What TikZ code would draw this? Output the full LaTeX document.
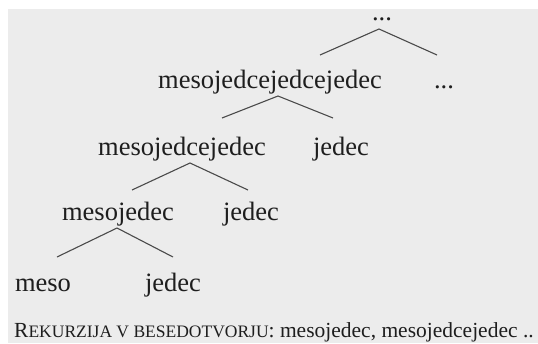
\documentclass[tikz,border=0pt]{standalone}
\usepackage{fontspec}
\setmainfont{Liberation Serif}
\definecolor{bggray}{HTML}{ECECEC}
\definecolor{linegray}{HTML}{4A4A4A}
\definecolor{txt}{HTML}{1E1E1E}
\tikzset{
  word/.style={anchor=base, inner sep=0pt, text=txt, font=\fontsize{26.5}{30}\selectfont},
  branch/.style={draw=linegray, line width=1.1pt},
  caption/.style={anchor=base west, inner sep=0pt, text=txt, font=\fontsize{21.5}{24}\selectfont}
}
\begin{document}
\begin{tikzpicture}[x=1pt,y=-1pt]
\useasboundingbox (0,0) rectangle (538,343);
\fill[white] (0,0) rectangle (538,343);
\fill[bggray] (8,9) rectangle (538,343);

% top
\node[word] (top) at (382,20) {...};
\coordinate (a1) at (379,29);
\coordinate (l1) at (320,55);
\coordinate (r1) at (437,55);
\draw[branch] (l1) -- (a1) -- (r1);

% row 1
\node[word] (w1) at (270,88) {mesojedcejedcejedec};
\node[word] (d1) at (444,88) {...};
\coordinate (a2) at (278,96);
\coordinate (l2) at (222,118);
\coordinate (r2) at (333,118);
\draw[branch] (l2) -- (a2) -- (r2);

% row 2
\node[word] (w2) at (182,155) {mesojedcejedec};
\node[word] (j2) at (341,155) {jedec};
\coordinate (a3) at (190,163);
\coordinate (l3) at (132,190);
\coordinate (r3) at (248,190);
\draw[branch] (l3) -- (a3) -- (r3);

% row 3
\node[word] (w3) at (118,220) {mesojedec};
\node[word] (j3) at (251,220) {jedec};
\coordinate (a4) at (117,228);
\coordinate (l4) at (57,257);
\coordinate (r4) at (173,257);
\draw[branch] (l4) -- (a4) -- (r4);

% row 4
\node[word] (w4) at (43,291) {meso};
\node[word] (j4) at (173,291) {jedec};

% caption
\node[caption] (cap) at (14,337.5) {R{\fontsize{17.5}{20}\selectfont EKURZIJA V BESEDOTVORJU}: mesojedec, mesojedcejedec ..};
\end{tikzpicture}
\end{document}
